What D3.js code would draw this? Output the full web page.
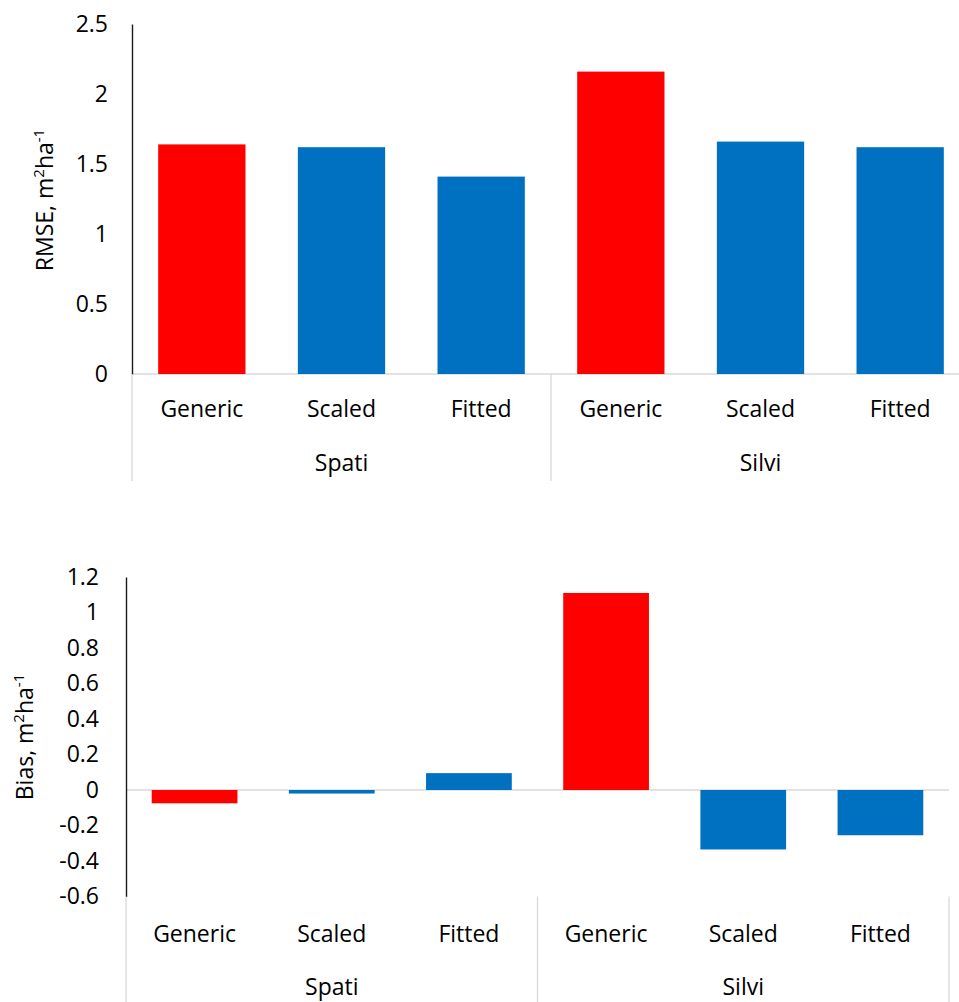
<!DOCTYPE html>
<html>
<head>
<meta charset="utf-8">
<script src="https://cdn.jsdelivr.net/npm/d3@7"></script>
<style>
  html, body { margin: 0; padding: 0; background: #fff; }
  svg { display: block; font-family: "Open Sans", sans-serif; }
</style>
</head>
<body>
<svg id="chart" width="959" height="1002"></svg>
<script>
// Model groups and the three calibration methods within each group
const groups = ["Spati", "Silvi"];
const methods = ["Generic", "Scaled", "Fitted"];

// RMSE (m² ha⁻¹) per group × method, in group order
const rmseValues = [1.64, 1.62, 1.41, 2.16, 1.66, 1.62];
// Bias (m² ha⁻¹) per group × method, in group order
const biasValues = [-0.075, -0.02, 0.095, 1.11, -0.335, -0.255];

// Axis ticks
const rmseTicks = [0, 0.5, 1, 1.5, 2, 2.5];
const biasTicks = [-0.6, -0.4, -0.2, 0, 0.2, 0.4, 0.6, 0.8, 1, 1.2];

const colorFor = { Generic: "#ff0000", Scaled: "#0070c0", Fitted: "#0070c0" };
const FONT = 23;

const rows = (values) => groups.flatMap((g, gi) =>
  methods.map((m, mi) => ({ key: g + "|" + m, group: g, method: m, value: values[gi * 3 + mi] })));

const svg = d3.select("#chart");

function panel(opts) {
  const data = rows(opts.values);
  const g = svg.append("g");

  const x = d3.scaleBand()
    .domain(data.map(d => d.key))
    .range([opts.left, opts.right])
    .paddingInner(0.375)
    .paddingOuter(0.1875);
  const y = d3.scaleLinear().domain(opts.domain).range([opts.bottom, opts.top]);
  const step = x.step();

  // zero baseline
  g.append("line")
    .attr("x1", opts.left).attr("x2", opts.right)
    .attr("y1", y(0)).attr("y2", y(0))
    .attr("stroke", "#d9d9d9").attr("stroke-width", 1.3);

  // bars
  g.selectAll("rect.bar").data(data).join("rect")
    .attr("class", "bar")
    .attr("x", d => x(d.key))
    .attr("width", x.bandwidth())
    .attr("y", d => y(Math.max(0, d.value)))
    .attr("height", d => Math.abs(y(d.value) - y(0)))
    .attr("fill", d => colorFor[d.method]);

  // value axis
  const axis = g.append("g")
    .attr("transform", `translate(${opts.left},0)`)
    .call(d3.axisLeft(y).tickValues(opts.ticks).tickSize(0).tickPadding(opts.tickPad)
      .tickFormat(d => String(+d.toFixed(1))));
  axis.select(".domain").attr("stroke", "#1a1a1a").attr("stroke-width", 1.4);
  axis.selectAll("text")
    .attr("font-family", "'Open Sans', sans-serif")
    .attr("font-size", FONT)
    .attr("fill", "#000");

  // category separators in the label area
  const sepTop = opts.bottom;
  const sepBottom = opts.sepBottom;
  const sepXs = [opts.left, opts.left + step * 3, opts.right];
  g.selectAll("line.sep").data(sepXs).join("line")
    .attr("class", "sep")
    .attr("x1", d => d).attr("x2", d => d)
    .attr("y1", sepTop).attr("y2", sepBottom)
    .attr("stroke", "#d9d9d9").attr("stroke-width", 1.3);

  // method labels
  g.selectAll("text.method").data(data).join("text")
    .attr("class", "method")
    .attr("x", d => x(d.key) + x.bandwidth() / 2)
    .attr("y", opts.methodY)
    .attr("dy", "0.35em")
    .attr("text-anchor", "middle")
    .attr("font-size", FONT)
    .text(d => d.method);

  // group labels
  g.selectAll("text.group").data(groups).join("text")
    .attr("class", "group")
    .attr("x", (d, i) => opts.left + step * (i * 3 + 1.5))
    .attr("y", opts.groupY)
    .attr("dy", "0.35em")
    .attr("text-anchor", "middle")
    .attr("font-size", FONT)
    .text(d => d);

  // rotated axis title with superscripts
  const t = g.append("text")
    .attr("transform", `translate(${opts.titleX},${opts.titleY}) rotate(-90)`)
    .attr("text-anchor", "middle")
    .attr("dy", "0.35em")
    .attr("font-size", FONT);
  t.append("tspan").text(opts.title + ", m");
  t.append("tspan").attr("font-size", 15).attr("dy", -9).text("2");
  t.append("tspan").attr("dy", 9).text("ha");
  t.append("tspan").attr("font-size", 15).attr("dy", -9).text("-1");
}

panel({
  values: rmseValues, ticks: rmseTicks, domain: [0, 2.5],
  left: 132, right: 970, top: 24, bottom: 374,
  tickPad: 24, sepBottom: 481, methodY: 409, groupY: 463,
  title: "RMSE", titleX: 45, titleY: 200
});

panel({
  values: biasValues, ticks: biasTicks, domain: [-0.6, 1.2],
  left: 126, right: 949, top: 577, bottom: 896.5,
  tickPad: 27, sepBottom: 1002, methodY: 934, groupY: 987,
  title: "Bias", titleX: 25, titleY: 737
});
</script>
</body>
</html>
